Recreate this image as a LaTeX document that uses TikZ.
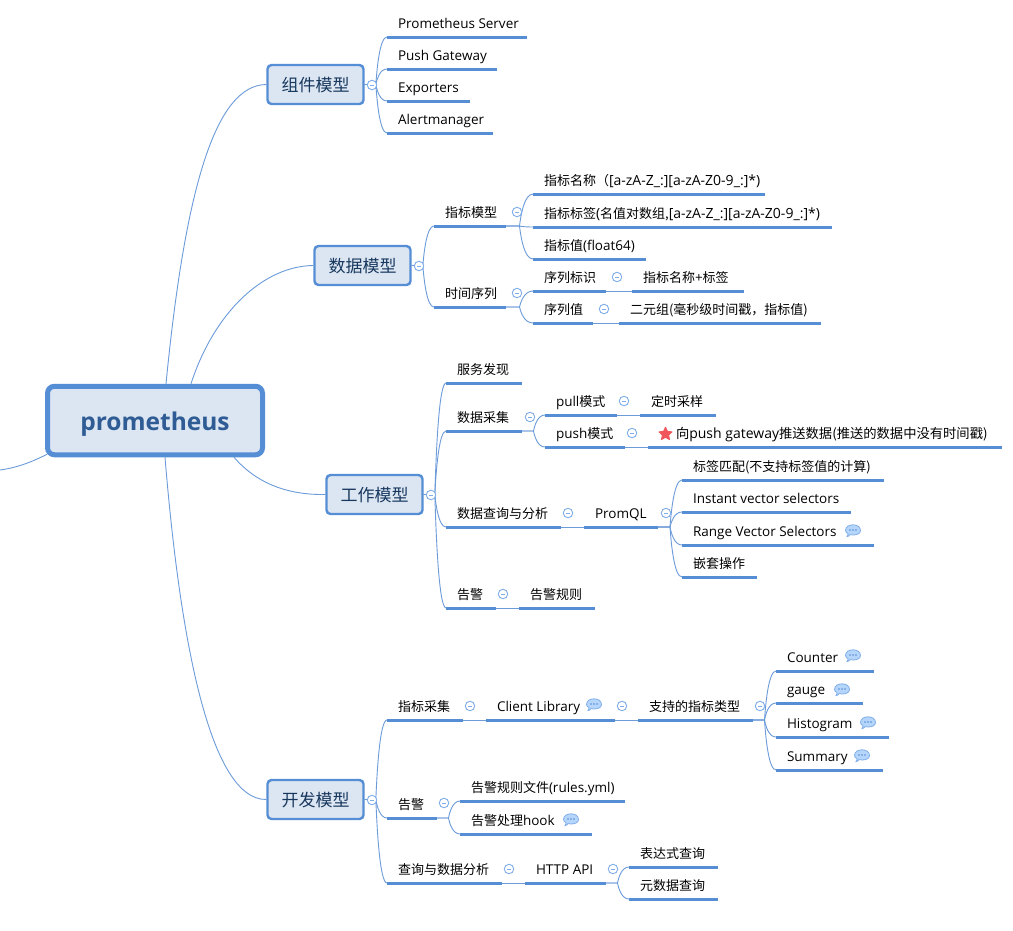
\documentclass[tikz,border=0pt]{standalone}
\usepackage{fontspec}
\setmainfont{Open Sans}
\newfontfamily\cjk{Noto Sans CJK SC}
\usetikzlibrary{calc,shapes.geometric}
\definecolor{lineblue}{HTML}{558ED5}
\definecolor{thinblue}{HTML}{6C9BDA}
\definecolor{boxfill}{HTML}{DCE6F2}
\definecolor{darktxt}{HTML}{17375E}
\definecolor{maintxt}{HTML}{2F5C94}
\definecolor{bubfill}{HTML}{B5D5FB}
\definecolor{bubline}{HTML}{7FAEE8}
\definecolor{starred}{HTML}{F0565A}
\newcommand{\C}[1]{{\fontsize{13}{15}\selectfont\cjk #1}}
\newcommand{\Cw}[1]{{\fontsize{13.3}{15}\selectfont\cjk #1}}
\newcommand{\Rx}[1]{{\fontsize{14}{15}\selectfont #1}}
\newcommand{\Lw}[1]{\raisebox{-7.3pt}[0pt][0pt]{#1}}
\tikzset{
  mainbox/.style={draw=lineblue,fill=boxfill,line width=5pt,rounded corners=7pt,minimum width=215pt,minimum height=68.5pt,inner sep=0pt,text=maintxt,font=\fontsize{24.5}{28}\selectfont\bfseries},
  subbox/.style={draw=lineblue,fill=boxfill,line width=2.4pt,rounded corners=4pt,minimum width=96pt,minimum height=39pt,inner sep=0pt,text=darktxt,font=\fontsize{17}{20}\selectfont\cjk},
  topicnode/.style={anchor=south west,inner sep=0pt,outer sep=0pt,text depth=8.5pt,text height=12pt,font=\fontsize{13.5}{15}\selectfont,text=black},
  uline/.style={draw=lineblue,line width=3pt},
  conn/.style={draw=thinblue,line width=0.9pt},
  collapser/.style={circle,draw=bubline,fill=white,line width=0.9pt,minimum size=9.5pt,inner sep=0pt,
    path picture={\draw[bubline,line width=0.9pt] ([xshift=2.5pt]path picture bounding box.west) -- ([xshift=-2.5pt]path picture bounding box.east);}},
  starmark/.style={star,star points=5,star point ratio=2.1,fill=starred,draw=starred,line width=1pt,line join=round,inner sep=0pt,minimum size=13.5pt},
}
% name, x1, x2, y of underline, text (optional: text indent)
\newcommand{\topic}[6][11]{%
  \pgfmathsetmacro{\topicw}{#4-#3}%
  \node[topicnode] (#2) at (#3,#5) {\hbox to \topicw pt{\hskip #1pt #6\hss}};
  \draw[uline] (#2.south west) -- (#2.south east);
}
% fork connector
\newcommand{\fork}[2]{%
  \draw[conn] let \p1=(#1),\p2=(#2),\n1={\x2-\x1},\n2={\y2-\y1} in
    (\p1) -- ({\x1+0.5*\n1},\y1) .. controls ({\x1+0.55*\n1},{\y1+0.35*\n2}) and ({\x1+0.68*\n1},\y2) .. (\p2);
}
\newcommand{\bubble}[2]{%
  \begin{scope}[shift={(#1,#2)}]
    \path[fill=bubfill,draw=bubline,line width=0.8pt] (-7.5,0.5) .. controls (-7.5,-3.2) and (-4,-5.2) .. (0,-5.2)
      .. controls (4,-5.2) and (7.5,-3.2) .. (7.5,0.5) .. controls (7.5,3.5) and (4,5) .. (0,5)
      .. controls (-1,5) and (-2,5) .. (-3,4.6) .. controls (-3.5,6) and (-5,6.5) .. (-6,6.5)
      .. controls (-5,5.5) and (-5,4) .. (-5,3.6) .. controls (-6.5,3) and (-7.5,1.8) .. (-7.5,0.5) -- cycle;
    \fill[lineblue] (-3,0) circle (0.8) (0,0) circle (0.8) (3,0) circle (0.8);
  \end{scope}
}
\begin{document}
\begin{tikzpicture}[x=1pt,y=-1pt]
\useasboundingbox (0,0) rectangle (1013,930);
\fill[white] (0,0) rectangle (1013,930);

% central and first-level topics
\node[mainbox] (main) at (155,420.5) {\raisebox{-9.5pt}[0pt][0pt]{prometheus}};
\node[subbox] (zujian) at (315.5,84.5) {\Lw{组件模型}};
\node[subbox] (shuju) at (362.5,265.5) {\Lw{数据模型}};
\node[subbox] (gongzuo) at (374.5,494.5) {\Lw{工作模型}};
\node[subbox] (kaifa) at (315.5,799.5) {\Lw{开发模型}};
\coordinate (leftend) at (0,470);

\draw[conn] ([xshift=11pt]main.north) .. controls (185,190) and (215,85) .. (zujian.west);
\draw[conn] ([xshift=36pt]main.north) .. controls (215,310) and (265,266) .. (shuju.west);
\draw[conn] ([xshift=79pt]main.south) .. controls (258,485) and (290,495) .. (gongzuo.west);
\draw[conn] ([xshift=10pt]main.south) .. controls (180,640) and (210,800) .. (kaifa.west);
\draw[conn] ([xshift=2pt,yshift=3pt]main.south west) .. controls (30,463) and (15,468) .. (leftend);

% component model
\topic{ps}{387}{527}{37}{Prometheus Server}
\topic{pg}{387}{497}{69}{Push Gateway}
\topic{ex}{387}{470}{101}{Exporters}
\topic{am}{387}{493}{133}{Alertmanager}
\foreach \c in {ps,pg,ex,am}{\fork{zujian.east}{\c.south west}}
\node[collapser] (c1) at (372,85) {};

% data model
\topic{zbmx}{434}{506}{226}{\C{指标模型}}
\topic{sjxl}{434}{506}{307}{\C{时间序列}}
\foreach \c in {zbmx,sjxl}{\fork{shuju.east}{\c.south west}}
\node[collapser] (c2) at (419,266) {};
\topic{zbmc}{533}{765}{194}{\C{指标名称（}\Rx{[a-zA-Z\_:][a-zA-Z0-9\_:]*)}}
\topic{zbbq}{533}{832}{227}{\C{指标标签}\Rx{(}\C{名值对数组,}\Rx{[a-zA-Z\_:][a-zA-Z0-9\_:]*)}}
\topic{zbz}{533}{646}{259}{\C{指标值}(float64)}
\foreach \c in {zbmc,zbbq,zbz}{\fork{zbmx.south east}{\c.south west}}
\node[collapser] (c3) at (517,212) {};
\topic{xlbs}{533}{606}{291}{\C{序列标识}}
\topic{xlz}{533}{593}{323}{\C{序列值}}
\foreach \c in {xlbs,xlz}{\fork{sjxl.south east}{\c.south west}}
\node[collapser] (c4) at (517,293) {};
\topic{mcbq}{632}{744}{291}{\C{指标名称}+\C{标签}}
\topic{eyz}{619}{821}{323}{\C{二元组(毫秒级时间戳，指标值)}}
\draw[conn] (xlbs.south east) -- (mcbq.south west);
\draw[conn] (xlz.south east) -- (eyz.south west);
\node[collapser] (c5) at (617,277) {};
\node[collapser] (c6) at (604,309) {};

% work model
\topic{fwfx}{446}{522}{383}{\C{服务发现}}
\topic{sjcj}{446}{522}{431}{\C{数据采集}}
\topic{sjcx}{446}{561}{527}{\C{数据查询与分析}}
\topic{gj}{446}{496}{608}{\C{告警}}
\foreach \c in {fwfx,sjcj,sjcx,gj}{\fork{gongzuo.east}{\c.south west}}
\node[collapser] (c7) at (431,495) {};
\topic{pull}{545}{617}{415}{pull\C{模式}}
\topic{push}{545}{625}{447}{push\C{模式}}
\foreach \c in {pull,push}{\fork{sjcj.south east}{\c.south west}}
\node[collapser] (c8) at (530,417) {};
\topic{dscy}{640}{716}{415}{\C{定时采样}}
\topic[28]{xpush}{648}{1002}{447}{\Cw{向}\Rx{push gateway}\Cw{推送数据(推送的数据中没有时间戳)}}
\node[starmark] (starone) at (665.5,434) {};
\draw[conn] (pull.south east) -- (dscy.south west);
\draw[conn] (push.south east) -- (xpush.south west);
\node[collapser] (c9) at (624,401) {};
\node[collapser] (c10) at (632,433) {};
\topic{promql}{584}{658}{527}{PromQL}
\draw[conn] (sjcx.south east) -- (promql.south west);
\node[collapser] (c11) at (568,513) {};
\topic{bqpp}{682}{884}{480}{\C{标签匹配(不支持标签值的计算)}}
\topic{ivs}{682}{851}{512}{Instant vector selectors}
\topic{rvs}{682}{874}{545}{Range Vector Selectors}
\topic{qtcz}{682}{757}{577}{\C{嵌套操作}}
\foreach \c in {bqpp,ivs,rvs,qtcz}{\fork{promql.south east}{\c.south west}}
\node[collapser] (c12) at (666,513) {};
\bubble{853}{530}
\topic{gjgz}{519}{595}{608}{\C{告警规则}}
\draw[conn] (gj.south east) -- (gjgz.south west);
\node[collapser] (c13) at (503,594) {};

% development model
\topic{zbcj}{387}{463}{720}{\C{指标采集}}
\topic{gjb}{387}{437}{818}{\C{告警}}
\topic{cxfx}{387}{502}{883}{\C{查询与数据分析}}
\foreach \c in {zbcj,gjb,cxfx}{\fork{kaifa.east}{\c.south west}}
\node[collapser] (c14) at (372,800) {};
\topic{clib}{486}{615}{720}{Client Library}
\draw[conn] (zbcj.south east) -- (clib.south west);
\node[collapser] (c15) at (470,706) {};
\bubble{594}{704}
\topic{zclx}{638}{753}{720}{\C{支持的指标类型}}
\draw[conn] (clib.south east) -- (zclx.south west);
\node[collapser] (c16) at (622,706) {};
\topic{counter}{776}{874}{671}{Counter}
\topic{gauge}{776}{863}{703}{gauge}
\topic{histo}{776}{889}{737}{Histogram}
\topic{summ}{776}{883}{770}{Summary}
\foreach \c in {counter,gauge,histo,summ}{\fork{zclx.south east}{\c.south west}}
\node[collapser] (c17) at (760,706) {};
\bubble{853}{655}
\bubble{842}{689}
\bubble{868}{722}
\bubble{862}{755}
\topic{gzwj}{460}{625}{801}{\C{告警规则文件}(rules.yml)}
\topic{clhook}{460}{592}{834}{\C{告警处理}hook}
\foreach \c in {gzwj,clhook}{\fork{gjb.south east}{\c.south west}}
\node[collapser] (c18) at (444,803) {};
\bubble{571}{819}
\topic{http}{525}{606}{883}{HTTP API}
\draw[conn] (cxfx.south east) -- (http.south west);
\node[collapser] (c19) at (509,869) {};
\topic{bds}{629}{718}{867}{\C{表达式查询}}
\topic{ysj}{629}{718}{899}{\C{元数据查询}}
\foreach \c in {bds,ysj}{\fork{http.south east}{\c.south west}}
\node[collapser] (c20) at (613,869) {};
\end{tikzpicture}
\end{document}
